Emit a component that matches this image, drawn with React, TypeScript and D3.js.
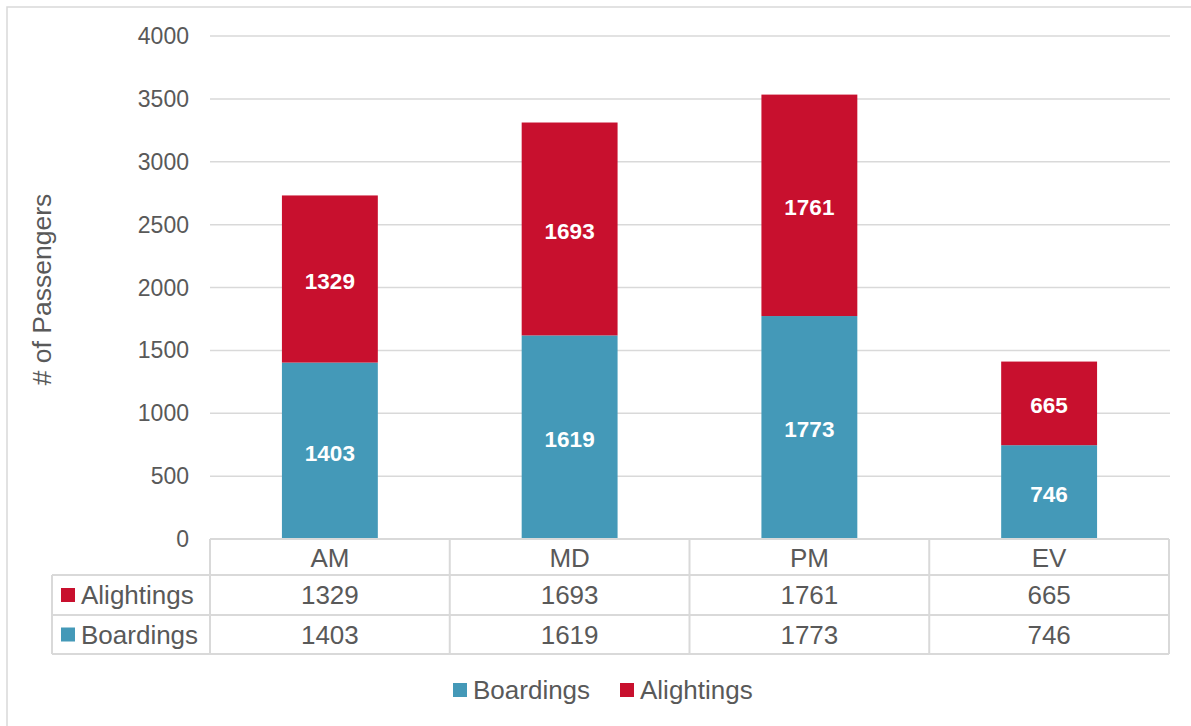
import React from 'react';
import * as d3 from 'd3';

// periods and stacked series
const periods = ['AM', 'MD', 'PM', 'EV'];
const boardings = [1403, 1619, 1773, 746];
const alightings = [1329, 1693, 1761, 665];
const yTicks = [0, 500, 1000, 1500, 2000, 2500, 3000, 3500, 4000];

const BLUE = '#4499B8';
const RED = '#C8102E';
const GREY = '#595959';
const LINE = '#D9D9D9';
const FONT = '"Liberation Sans", Arial, sans-serif';

const W = 1191, H = 726;
const plot = { left: 210, right: 1169, top: 36, bottom: 539 };
const rows = [539, 575, 615, 654];
const labelX = 52;

const App: React.FC = () => {
  const x = d3.scaleBand<string>().domain(periods).range([plot.left, plot.right]).paddingInner(0).paddingOuter(0);
  const y = d3.scaleLinear().domain([0, 4000]).range([plot.bottom, plot.top]);
  const barW = x.bandwidth() * 0.4;

  const stacked = d3.stack<number>()
    .keys(['b', 'a'])
    .value((i, k) => (k === 'b' ? boardings[i] : alightings[i]))(periods.map((_, i) => i));

  const tableRows = [
    { name: 'Alightings', color: RED, values: alightings },
    { name: 'Boardings', color: BLUE, values: boardings },
  ];

  return (
    <svg width={W} height={H} style={{ position: 'absolute', left: 0, top: 0 }} fontFamily={FONT}>
      <rect x={0} y={0} width={W} height={H} fill="#fff" />
      {/* outer chart frame */}
      <rect x={7} y={7} width={W + 10} height={H + 10} fill="none" stroke={LINE} strokeWidth={1.5} />

      {/* gridlines + tick labels */}
      {yTicks.map(t => (
        <g key={t}>
          {t > 0 && <line x1={plot.left} x2={plot.right + 1} y1={y(t)} y2={y(t)} stroke={LINE} strokeWidth={1.5} />}
          <text x={189} y={y(t)} dy="0.35em" textAnchor="end" fontSize={23} fill={GREY}>{t}</text>
        </g>
      ))}

      <text transform={`translate(42,${(plot.top + plot.bottom) / 2 + 2}) rotate(-90)`} textAnchor="middle" dy="0.35em" fontSize={26.5} fill={GREY}>
        # of Passengers
      </text>

      {/* bars */}
      {stacked.map((series, si) => (
        <g key={si} fill={si === 0 ? BLUE : RED}>
          {series.map((d, i) => {
            const cx = (x(periods[i]) ?? 0) + x.bandwidth() / 2;
            return (
              <g key={i}>
                <rect x={cx - barW / 2} y={y(d[1])} width={barW} height={y(d[0]) - y(d[1])} />
                <text x={cx} y={(y(d[0]) + y(d[1])) / 2 + 2} dy="0.35em" textAnchor="middle" fontSize={22.5} fontWeight="bold" fill="#fff">
                  {d[1] - d[0]}
                </text>
              </g>
            );
          })}
        </g>
      ))}

      {/* data table */}
      <g stroke={LINE} strokeWidth={2} fill="none">
        <line x1={plot.left} x2={plot.right} y1={rows[0]} y2={rows[0]} />
        {rows.slice(1).map(r => <line key={r} x1={labelX} x2={plot.right} y1={r} y2={r} />)}
        <line x1={labelX} x2={labelX} y1={rows[1]} y2={rows[3]} />
        {periods.map(p => <line key={p} x1={x(p)} x2={x(p)} y1={rows[0]} y2={rows[3]} />)}
        <line x1={plot.right} x2={plot.right} y1={rows[0]} y2={rows[3]} />
      </g>
      {periods.map(p => (
        <text key={p} x={(x(p) ?? 0) + x.bandwidth() / 2} y={(rows[0] + rows[1]) / 2 + 1} dy="0.35em" textAnchor="middle" fontSize={26} fill={GREY}>{p}</text>
      ))}
      {tableRows.map((r, ri) => {
        const cy = (rows[ri + 1] + rows[ri + 2]) / 2;
        return (
          <g key={r.name}>
            <rect x={61} y={cy - 7} width={14} height={14} fill={r.color} />
            <text x={81} y={cy} dy="0.35em" fontSize={26} fill={GREY}>{r.name}</text>
            {r.values.map((v, i) => (
              <text key={i} x={(x(periods[i]) ?? 0) + x.bandwidth() / 2} y={cy} dy="0.35em" textAnchor="middle" fontSize={26} fill={GREY}>{v}</text>
            ))}
          </g>
        );
      })}

      {/* legend */}
      <g>
        <rect x={453} y={683} width={14} height={14} fill={BLUE} />
        <text x={473} y={690} dy="0.35em" fontSize={26} fill={GREY}>Boardings</text>
        <rect x={620} y={683} width={14} height={14} fill={RED} />
        <text x={640} y={690} dy="0.35em" fontSize={26} fill={GREY}>Alightings</text>
      </g>
    </svg>
  );
};

export default App;
